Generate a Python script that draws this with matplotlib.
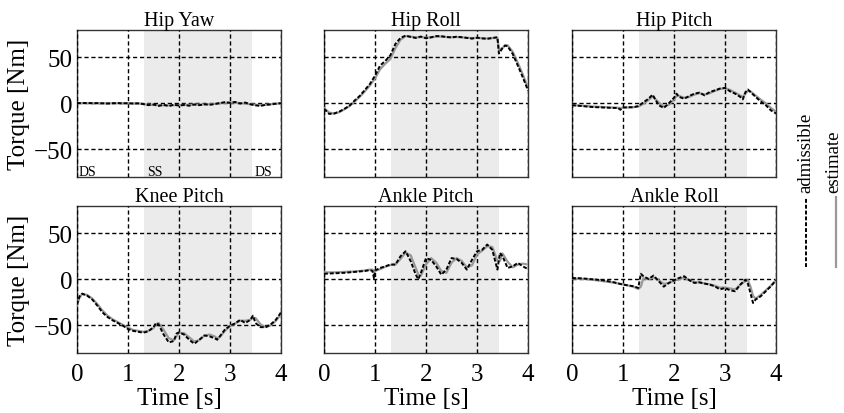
import matplotlib
matplotlib.use('Agg')
import matplotlib.pyplot as plt
from matplotlib.lines import Line2D

# single support phase (shaded)
ss_start = 1.32
ss_end = 3.43

joints = ['Hip Yaw', 'Hip Roll', 'Hip Pitch', 'Knee Pitch', 'Ankle Pitch', 'Ankle Roll']

hip_yaw_t = [0.0, 0.1, 0.2, 0.3, 0.4, 0.5, 0.6, 0.7, 0.8, 0.9, 1.0, 1.1, 1.2, 1.3, 1.4, 1.5, 1.6, 1.7, 1.8, 1.9, 2.0,
             2.1, 2.2, 2.3, 2.4, 2.5, 2.6, 2.7, 2.8, 2.9, 3.0, 3.1, 3.2, 3.3, 3.4, 3.5, 3.6, 3.7, 3.8, 3.9, 4.0]
hip_yaw_adm = [0.3, 0.2, 0.4, 0.1, 0.2, 0.0, -0.2, 0.1, 0.3, -0.1, 0.2, -0.3, 0.0, -0.8, -2.0, -1.2, -2.8, -1.6, -3.0,
               -1.5, -2.4, -1.8, -2.6, -1.2, -2.0, -1.0, -1.6, -0.8, 0.3, 1.2, 0.5, 1.5, -0.2, 0.8, -1.0, -2.2, -2.8,
               -1.6, -1.2, -0.4, 0.2]
hip_yaw_est = [0.2, 0.2, 0.2, 0.1, 0.1, 0.0, 0.0, 0.0, 0.1, 0.1, 0.0, 0.0, -0.2, -0.8, -1.5, -1.8, -2.0, -2.2, -2.2,
               -2.0, -1.9, -1.8, -1.7, -1.5, -1.4, -1.2, -1.0, -0.6, 0.0, 0.6, 0.9, 0.8, 0.3, -0.3, -1.0, -1.6, -1.9,
               -1.6, -1.0, -0.5, 0.0]

hip_roll_t = [0.0, 0.1, 0.2, 0.3, 0.4, 0.5, 0.6, 0.7, 0.8, 0.9, 1.0, 1.1, 1.2, 1.3, 1.4, 1.5, 1.6, 1.7, 1.8, 1.9, 2.0,
              2.1, 2.2, 2.3, 2.4, 2.5, 2.6, 2.7, 2.8, 2.9, 3.0, 3.1, 3.2, 3.3, 3.4, 3.43, 3.5, 3.55, 3.6, 3.7, 3.8,
              3.9, 4.0]
hip_roll_adm = [-6, -11.5, -11, -9, -6, -2.5, 3, 8, 14.5, 21, 30, 41, 46, 52, 64.5, 71, 73.5, 72, 71, 72.5, 70.6,
                71.7, 73, 72.8, 72, 71.5, 72.3, 71.8, 71, 70.3, 71.2, 70.5, 70, 71, 71.7, 54, 60, 62.7, 62, 53.6, 41,
                28, 14]
hip_roll_est = [-5, -10, -11.2, -9.5, -6.5, -3, 2, 7, 13, 19.5, 27, 37, 43, 48, 60, 69, 73, 72.5, 71.5, 72, 71.2,
                71.5, 72.5, 72.5, 72, 71.8, 72, 71.6, 71.2, 70.8, 71, 70.7, 70.4, 70.8, 71.2, 58, 60, 63, 63, 56, 44,
                31, 17]

hip_pitch_t = [0.0, 0.2, 0.4, 0.6, 0.8, 0.9, 0.95, 1.0, 1.1, 1.2, 1.3, 1.4, 1.5, 1.58, 1.7, 1.8, 1.9, 2.0, 2.05, 2.1,
               2.2, 2.3, 2.4, 2.5, 2.6, 2.7, 2.8, 2.9, 3.0, 3.1, 3.2, 3.3, 3.35, 3.4, 3.45, 3.5, 3.6, 3.7, 3.8, 3.9,
               4.0]
hip_pitch_adm = [-2, -3, -4, -4.5, -5, -5, -7, -4.5, -4.2, -4.3, -3, 1, 5, 9.4, -2, -5, 0, 6, 10.5, 7, 5, 8, 10.5,
                 11.6, 8.7, 12.3, 14, 16, 16.7, 13, 10.5, 7, 4.3, 12, 15, 12.3, 7, 2, -2, -7.6, -11]
hip_pitch_est = [-2, -2.5, -3.5, -4, -4.5, -4.8, -5, -5, -4.5, -4.2, -3.5, -0.5, 3.5, 7.5, 1, -3.5, -1.5, 4, 8, 8, 6,
                 7, 9.5, 11, 9.5, 11, 13.5, 15.5, 16.5, 14.5, 11.5, 8.5, 7, 10.5, 13.5, 13, 8.5, 4, 0, -5, -9]

knee_pitch_t = [0.0, 0.05, 0.1, 0.2, 0.3, 0.4, 0.5, 0.6, 0.7, 0.8, 0.9, 1.0, 1.1, 1.2, 1.3, 1.4, 1.5, 1.55, 1.6, 1.7,
                1.8, 1.9, 1.95, 2.0, 2.1, 2.2, 2.3, 2.4, 2.5, 2.6, 2.7, 2.75, 2.8, 2.9, 3.0, 3.1, 3.2, 3.3, 3.4, 3.45,
                3.5, 3.6, 3.7, 3.8, 3.9, 4.0]
knee_pitch_adm = [-27.5, -18.5, -15.6, -17.8, -22, -28.6, -36, -41, -44.6, -47.5, -50.4, -54, -56, -57, -58, -56.5,
                  -52, -47.5, -49, -60, -68.5, -67, -59, -57.6, -60, -65.6, -70, -65.6, -61, -62, -64, -65.6, -62,
                  -54.7, -50.4, -48, -44, -47.5, -44, -39.5, -47.5, -52, -52, -49, -44, -36]
knee_pitch_est = [-28, -20, -16, -17, -21, -27, -34, -39.5, -43.5, -46.5, -49.5, -52.5, -55, -56, -57, -56, -53, -49,
                  -47.5, -55, -64, -66, -62, -58, -58.5, -63, -67.5, -66, -61, -60, -62, -64, -63, -56, -51, -48, -45,
                  -45, -44, -42, -42, -49, -52, -50, -45, -38]

ankle_pitch_t = [0.0, 0.2, 0.4, 0.6, 0.8, 0.9, 0.95, 0.98, 1.0, 1.1, 1.2, 1.3, 1.4, 1.5, 1.6, 1.7, 1.8, 1.85, 1.9,
                 2.0, 2.1, 2.2, 2.3, 2.4, 2.5, 2.6, 2.7, 2.8, 2.9, 3.0, 3.1, 3.2, 3.3, 3.4, 3.45, 3.5, 3.6, 3.7, 3.8,
                 3.9, 4.0]
ankle_pitch_adm = [6, 6.5, 7, 8, 9, 10, 9, 1, 9.5, 12.3, 14, 16, 16, 25, 30.4, 19.6, 5, 0, 7, 23, 21, 14, 5, 10.5,
                   23, 22, 17.8, 10.5, 21, 30.4, 32, 37.7, 32, 10.5, 28.6, 25, 12.3, 14, 17.8, 14, 11]
ankle_pitch_est = [7.5, 7.5, 8, 8.5, 9.5, 10.5, 10.5, 9, 9, 11, 13.5, 15.5, 16, 22, 29, 26, 12, 5, 4, 16, 23, 18, 9,
                   7, 18, 23, 20, 13, 15, 27, 31, 36, 35, 20, 20, 28, 19, 13, 16, 17, 16]

ankle_roll_t = [0.0, 0.2, 0.4, 0.6, 0.8, 1.0, 1.2, 1.3, 1.35, 1.4, 1.5, 1.6, 1.7, 1.8, 1.9, 2.0, 2.1, 2.2, 2.3, 2.4,
                2.5, 2.6, 2.7, 2.8, 2.9, 3.0, 3.1, 3.2, 3.3, 3.4, 3.45, 3.5, 3.55, 3.6, 3.7, 3.8, 3.9, 4.0]
ankle_roll_adm = [1.4, 1, 0, -1, -3, -5.8, -7.5, -9.4, 6, 3.3, 0.4, 4, -2, -8, -4, -1, 1.4, 3.3, -1, -4, -3.3, -4.7,
                  -5.8, -7.6, -11, -9.4, -12, -13, -5.8, -0.4, -5, -15, -25.7, -22, -18.5, -13, -7.6, -1]
ankle_roll_est = [1, 0.5, -0.5, -2, -3.5, -5.5, -8, -10.5, -8, 1, 0, 2, -1, -5, -4, -1.5, 0, 2, -1, -3, -3.5, -4.5,
                  -5.5, -7, -9, -9, -10, -11, -6, -2, -1, -8, -18, -21, -17, -12, -7, -1]

series = [
    (hip_yaw_t, hip_yaw_adm, hip_yaw_est),
    (hip_roll_t, hip_roll_adm, hip_roll_est),
    (hip_pitch_t, hip_pitch_adm, hip_pitch_est),
    (knee_pitch_t, knee_pitch_adm, knee_pitch_est),
    (ankle_pitch_t, ankle_pitch_adm, ankle_pitch_est),
    (ankle_roll_t, ankle_roll_adm, ankle_roll_est),
]

plt.rc('font', family='Liberation Serif')

fig = plt.figure(figsize=(8.44, 4.14), dpi=100)
lefts = [0.0912, 0.3839, 0.6777]
bottoms = [0.570, 0.145]
w, h = 0.2417, 0.356

for i, name in enumerate(joints):
    r, c = divmod(i, 3)
    ax = fig.add_axes([lefts[c], bottoms[r], w, h])
    t, adm, est = series[i]
    ax.axvspan(ss_start, ss_end, color='#ebebeb', lw=0, zorder=0)
    ax.plot(t, est, color='#999999', lw=1.6, zorder=3)
    ax.plot(t, adm, color='black', lw=1.4, ls=(0, (2, 1)), zorder=4)
    ax.set_xlim(0, 4)
    ax.set_ylim(-80, 80)
    ax.set_xticks([0, 1, 2, 3, 4])
    ax.set_yticks([-50, 0, 50])
    ax.grid(True, color='black', lw=1.0, ls=(0, (3, 2)))
    ax.set_axisbelow(False)
    ax.tick_params(length=0, labelsize=18)
    ax.tick_params(axis='y', pad=3)
    ax.tick_params(axis='x', pad=7)
    for sp in ax.spines.values():
        sp.set_color('#333333')
        sp.set_linewidth(1.0)
    ax.set_title(name, fontsize=14.5, pad=3)
    if c == 0:
        ax.set_ylabel('Torque [Nm]', fontsize=18, labelpad=3)
    else:
        ax.set_yticklabels([])
    if r == 1:
        ax.set_xlabel('Time [s]', fontsize=18, labelpad=2)
    else:
        ax.set_xticklabels([])
    if i == 0:
        ax.text(0.04, -74, 'DS', fontsize=10, va='center')
        ax.text(1.37, -74, 'SS', fontsize=10, va='center')
        ax.text(3.48, -74, 'DS', fontsize=10, va='center')

# vertical legend on the right
fig.add_artist(Line2D([0.955, 0.955], [0.353, 0.522], transform=fig.transFigure,
                      color='black', lw=1.4, ls=(0, (2, 1))))
fig.add_artist(Line2D([0.990, 0.990], [0.353, 0.522], transform=fig.transFigure,
                      color='#999999', lw=1.6))
fig.text(0.955, 0.534, 'admissible', rotation=90, ha='center', va='bottom', fontsize=13.5)
fig.text(0.988, 0.534, 'estimate', rotation=90, ha='center', va='bottom', fontsize=13.5)

plt.savefig('out.png', dpi=100)
